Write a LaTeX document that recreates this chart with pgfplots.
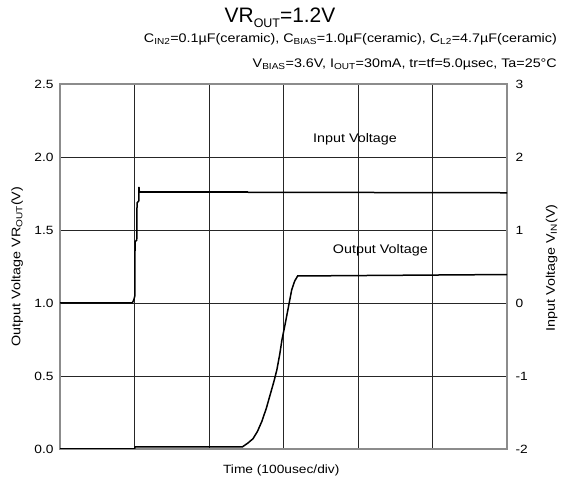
\documentclass[border=0pt]{standalone}
\usepackage{fontspec}
\setmainfont{Liberation Sans}[FakeStretch=1.15]
\newfontfamily\titlefont{Liberation Sans}
\usepackage{pgfplots}
\pgfplotsset{compat=1.18}
\begin{document}
\begin{tikzpicture}[x=1bp,y=1bp]
\useasboundingbox (0,0) rectangle (561,481);
\pgfplotsset{
  base/.style={
    scale only axis, width=447bp, height=365bp,
    at={(60bp,32bp)}, anchor=south west,
    xmin=0, xmax=6, xtick={0,1,2,3,4,5,6}, xticklabels={},
    major tick length=0pt,
    /pgf/number format/assume math mode=true,
    tick label style={font=\fontsize{12}{14}\selectfont},
  }
}
% left axis: output voltage
\begin{axis}[base,
  ymin=0, ymax=2.5, ytick={0,0.5,1,1.5,2,2.5},
  yticklabel style={xshift=-3bp, /pgf/number format/fixed, /pgf/number format/fixed zerofill, /pgf/number format/precision=1},
  grid=major, grid style={black!85, line width=0.7bp},
  axis line style={black!45, line width=1.5bp},
  xlabel={Time (100usec/div)},
  ylabel={Output Voltage VR\textsubscript{OUT}(V)},
  every axis x label/.style={at={(axis description cs:0.495,-0.06)}, anchor=center, font=\fontsize{12}{14}\selectfont},
  every axis y label/.style={at={(axis description cs:-0.096,0.5)}, rotate=90, anchor=center, font=\fontsize{12.5}{14}\selectfont},
]
\addplot[black, line width=1.5bp] coordinates {
  (0,0) (1.0,0) (1.01,0.015) (2.45,0.015) (2.52,0.04) (2.59,0.07) (2.65,0.12)
  (2.71,0.19) (2.77,0.28) (2.82,0.37) (2.87,0.46) (2.91,0.54) (2.95,0.65)
  (2.98,0.75) (3.02,0.85) (3.05,0.93) (3.08,1.01) (3.11,1.09) (3.15,1.15)
  (3.19,1.185) (6,1.195)
};
\node[font=\fontsize{12.5}{14}\selectfont] at (axis cs:3.96,2.12) {Input Voltage};
\node[font=\fontsize{12.5}{14}\selectfont] at (axis cs:4.30,1.36) {Output Voltage};
\end{axis}
% right axis: input voltage
\begin{axis}[base,
  axis x line=none, axis y line*=right,
  axis line style={draw=none},
  ymin=-2, ymax=3, ytick={-2,-1,0,1,2,3},
  yticklabel style={xshift=5bp},
  ylabel={Input Voltage V\textsubscript{IN}(V)},
  every axis y label/.style={at={(axis description cs:1.10,0.496)}, rotate=90, anchor=center, font=\fontsize{12.5}{14}\selectfont},
]
\addplot[black, line width=1.5bp] coordinates {
  (0,0) (0.97,0) (0.99,0.04) (1.005,0.1) (1.007,0.84) (1.03,0.86) (1.034,1.37)
  (1.058,1.4) (1.06,1.59) (1.065,1.52) (6,1.51)
};
\addplot[black, line width=2.6bp] coordinates {(1.065,1.52) (2.52,1.52)};
\end{axis}
\node[anchor=base, font=\titlefont\fontsize{21}{22}\selectfont] at (280,458)
  {VR\raisebox{-5bp}{\fontsize{12.5}{13}\selectfont OUT}=1.2V};
\node[anchor=base east, inner sep=0pt, font=\fontsize{12.5}{14}\selectfont] at (557,438)
  {C\textsubscript{IN2}=0.1µF(ceramic), C\textsubscript{BIAS}=1.0µF(ceramic), C\textsubscript{L2}=4.7µF(ceramic)};
\node[anchor=base east, inner sep=0pt, font=\fontsize{12.5}{14}\selectfont] at (557,413)
  {V\textsubscript{BIAS}=3.6V, I\textsubscript{OUT}=30mA, tr=tf=5.0µsec, Ta=25°C};
\end{tikzpicture}
\end{document}
